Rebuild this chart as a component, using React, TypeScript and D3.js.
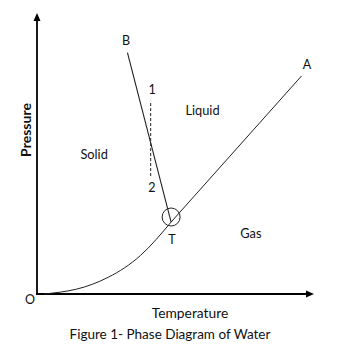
import React from "react";
import * as d3 from "d3";

// Phase diagram data (temperature, pressure) in arbitrary 0-100 units
const sublimationCurve: [number, number][] = [
  [2.5, 0], [14, 1.7], [25.5, 6.0], [37, 13.8], [47.9, 25.7],
];
const vaporizationLine: [number, number][] = [[47.9, 25.7], [94.5, 77.9]];
const fusionLine: [number, number][] = [[32.3, 86.2], [47.9, 25.7]];
const metastableLine: [number, number][] = [[40.6, 68.2], [40.6, 41.4]];
const triplePoint: [number, number] = [47.9, 27.5];

const regionLabels = ["Solid", "Liquid", "Gas"];
const regionPositions: [number, number][] = [[20.4, 48.1], [59.1, 63.9], [76.4, 19.9]];
const pointLabels = ["A", "B", "1", "2", "T", "O"];
const pointPositions: [number, number][] = [
  [96.4, 80.5], [31.8, 89.1], [41.1, 71.3], [41.0, 36.6], [48.2, 17.7], [-2.5, -3.7],
];

const W = 344, H = 352;
const x = d3.scaleLinear().domain([0, 100]).range([37, 317]);
const y = d3.scaleLinear().domain([0, 100]).range([294, 14]);
const FONT = "Lato, 'Open Sans', sans-serif";

export default function App() {
  const line = d3.line<[number, number]>().x(d => x(d[0])).y(d => y(d[1]));
  const curve = d3.line<[number, number]>().x(d => x(d[0])).y(d => y(d[1])).curve(d3.curveNatural);
  const x0 = x(0), y0 = y(0);
  const yTop = 13, xEnd = 314;
  return (
    <svg width={W} height={H} style={{ position: "absolute", left: 0, top: 0, background: "#fff" }}>
      <rect width={W} height={H} fill="#fff" />
      {/* axes */}
      <line x1={x0} y1={y0} x2={x0} y2={yTop + 5} stroke="#000" strokeWidth={1.8} />
      <path d={`M${x0},${yTop} L${x0 - 3.5},${yTop + 8} L${x0 + 3.5},${yTop + 8} Z`} fill="#000" />
      <line x1={x0 - 1} y1={y0} x2={xEnd - 5} y2={y0} stroke="#000" strokeWidth={1.8} />
      <path d={`M${xEnd},${y0} L${xEnd - 8},${y0 - 3.5} L${xEnd - 8},${y0 + 3.5} Z`} fill="#000" />
      {/* phase boundaries */}
      <path d={curve(sublimationCurve) || ""} fill="none" stroke="#222" strokeWidth={1} />
      <path d={line(vaporizationLine) || ""} fill="none" stroke="#222" strokeWidth={1} />
      <path d={line(fusionLine) || ""} fill="none" stroke="#222" strokeWidth={1.1} />
      <path d={line(metastableLine) || ""} fill="none" stroke="#222" strokeWidth={1} strokeDasharray="3,2" />
      <circle cx={x(triplePoint[0])} cy={y(triplePoint[1])} r={9} fill="none" stroke="#222" strokeWidth={1} />
      {/* labels */}
      {regionLabels.map((t, i) => (
        <text key={t} x={x(regionPositions[i][0])} y={y(regionPositions[i][1])} textAnchor="middle"
          fontFamily={FONT} fontSize={12.8} fill="#111">{t}</text>
      ))}
      {pointLabels.map((t, i) => (
        <text key={t} x={x(pointPositions[i][0])} y={y(pointPositions[i][1])} textAnchor="middle"
          fontFamily={FONT} fontSize={12.5} fill="#111">{t}</text>
      ))}
      <text transform="translate(30.5,130) rotate(-90)" textAnchor="middle" fontFamily={FONT}
        fontSize={14} fontWeight="bold" fill="#111">Pressure</text>
      <text x={190} y={318.3} textAnchor="middle" fontFamily={FONT} fontSize={13.8} fill="#111">Temperature</text>
      <text x={170} y={339.3} textAnchor="middle" fontFamily={FONT} fontSize={13.5} fill="#111">Figure 1- Phase Diagram of Water</text>
    </svg>
  );
}
